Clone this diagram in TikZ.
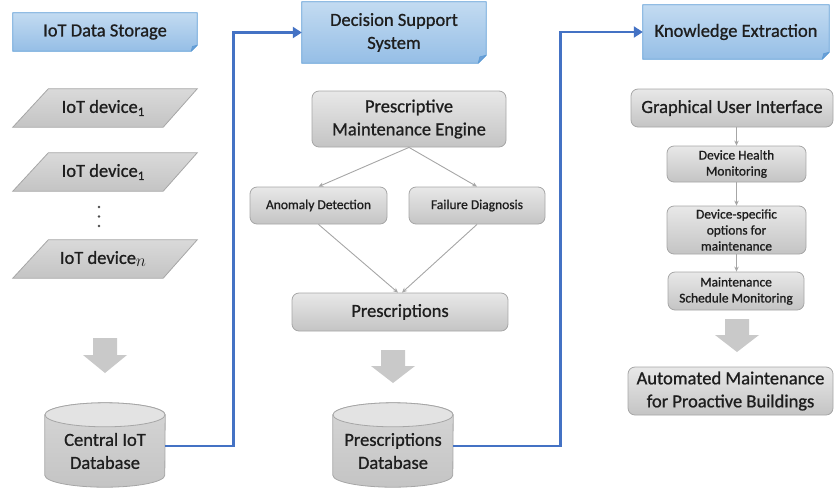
\documentclass[tikz,border=0pt]{standalone}
\usepackage{fontspec}
\setmainfont{Carlito}[FakeBold=0.9]
\usetikzlibrary{calc,arrows.meta}
\pgfdeclarelayer{background}
\pgfsetlayers{background,main}
\definecolor{bluefillA}{HTML}{C3DBF1}
\definecolor{bluefillB}{HTML}{95BEE6}
\definecolor{blueedge}{HTML}{5B9BD5}
\definecolor{bluefold}{HTML}{6E9FD6}
\definecolor{conn}{HTML}{4472C4}
\definecolor{gtop}{HTML}{E8E8E8}
\definecolor{gbot}{HTML}{C4C4C4}
\definecolor{gedge}{HTML}{A6A6A6}
\definecolor{txt}{HTML}{1E1E1E}
\definecolor{garrow}{HTML}{C9C9C9}
\tikzset{
  big/.style={font=\fontsize{18.5}{23}\selectfont, text=txt, align=center, inner sep=0pt},
  small/.style={font=\fontsize{13.4}{16}\selectfont, text=txt, align=center, inner sep=0pt},
  tiny/.style={font=\fontsize{13.5}{15}\selectfont, text=txt, align=center, inner sep=0pt},
  rbox/.style={draw=gedge, line width=0.8pt, rounded corners=7pt, top color=gtop, bottom color=gbot},
  grayline/.style={draw=gedge, line width=0.9pt, -{Stealth[length=5pt,width=4.5pt]}},
  blueline/.style={draw=conn, line width=2.8pt, -{Triangle[length=9pt,width=11pt]}},
  bluebox/.style={draw=blueedge, line width=0.8pt, top color=bluefillA, bottom color=bluefillB},
  foldtri/.style={fill=bluefold, draw=blueedge, line width=0.6pt, line join=round},
  paral/.style={draw=gedge, line width=0.8pt, top color=gtop!60!gbot, bottom color=gbot},
  cylbody/.style={draw=gedge, line width=0.8pt, top color=gtop!50!gbot, bottom color=gbot},
  cyltop/.style={draw=gedge, line width=0.8pt, fill=gtop!85!gbot},
  blockarrow/.style={fill=garrow, draw=none},
}
\begin{document}
\begin{tikzpicture}[x=1pt, y=-1pt]
\useasboundingbox (0,0) rectangle (834,491);

% ---------- headers ----------
\node[big, minimum width=184pt, minimum height=38pt] (ids) at (105,32) {IoT Data Storage};
\node[big, minimum width=184pt, minimum height=61pt] (dss) at (394,32.5) {Decision Support\\System};
\node[big, minimum width=186pt, minimum height=54pt] (ke) at (736,32) {Knowledge Extraction};

% ---------- left column ----------
\node[big, minimum width=148.5pt, minimum height=38pt] (d1) at (103,108) {IoT device\raisebox{-0.35ex}{\fontsize{13}{13}\selectfont 1}};
\node[big, minimum width=148.5pt, minimum height=38pt] (d2) at (103,172) {IoT device\raisebox{-0.35ex}{\fontsize{13}{13}\selectfont 1}};
\node[big, minimum width=148.5pt, minimum height=38pt] (dn) at (103,259) {IoT device\raisebox{-0.35ex}{$n$}};
\node[big, minimum width=120pt, minimum height=72pt] (cdb) at (105,451) {Central IoT\\Database};

% ---------- middle column ----------
\node[big, rbox, minimum width=194pt, minimum height=56pt] (pme) at (409,119) {Prescriptive\\Maintenance Engine};
\node[tiny, rbox, minimum width=137pt, minimum height=37pt] (ad) at (318.5,205.5) {Anomaly Detection};
\node[tiny, rbox, minimum width=136pt, minimum height=37pt] (fd) at (477,205.5) {Failure Diagnosis};
\node[big, rbox, minimum width=216pt, minimum height=38pt] (pr) at (400,312) {Prescriptions};
\node[big, minimum width=120pt, minimum height=72pt] (pdb) at (393,451) {Prescriptions\\Database};

% ---------- right column ----------
\node[big, rbox, minimum width=202pt, minimum height=38pt] (gui) at (732,108) {Graphical User Interface};
\node[small, rbox, minimum width=139pt, minimum height=36pt] (dhm) at (736.5,164) {Device Health\\Monitoring};
\node[small, rbox, minimum width=139pt, minimum height=48pt] (dso) at (736.5,230) {Device-specific\\options for\\maintenance};
\node[small, rbox, minimum width=136pt, minimum height=38pt] (msm) at (736,291) {Maintenance\\Schedule Monitoring};
\node[big, rbox, minimum width=205pt, minimum height=48pt] (amp) at (730.5,391) {Automated Maintenance\\for Proactive Buildings};

\begin{pgfonlayer}{background}
  % blue folded-corner boxes
  \foreach \b/\c in {ids/6,dss/8,ke/7}{
    \path[bluebox] (\b.north west) -- (\b.north east) -- ([yshift=\c pt]\b.south east)
      -- ([xshift=-\c pt]\b.south east) -- (\b.south west) -- cycle;
    \path[foldtri] ([yshift=\c pt]\b.south east) -- ([xshift=-\c pt]\b.south east)
      -- ([xshift=-0.8*\c pt, yshift=0.8*\c pt]\b.south east) -- cycle;
  }
  % parallelograms
  \foreach \p in {d1,d2,dn}{
    \path[paral] ([xshift=19.75pt]\p.north west) -- ([xshift=19.75pt]\p.north east)
      -- ([xshift=-14.25pt]\p.south east) -- ([xshift=-15.75pt]\p.south west) -- cycle;
  }
  % cylinders
  \foreach \c in {cdb,pdb}{
    \path[cylbody] (\c.north west) -- ([yshift=12pt]\c.south west)
      arc[start angle=180, end angle=360, x radius=60pt, y radius=12pt]
      -- (\c.north east)
      arc[start angle=0, end angle=180, x radius=60pt, y radius=12pt] -- cycle;
    \path[cyltop] (\c.north) ellipse[x radius=60pt, y radius=12pt];
  }
\end{pgfonlayer}

% dots
\foreach \yy in {207,216.5,226}{\fill[txt!80] (99,\yy) circle[radius=1.4pt];}

% block arrows
\fill[blockarrow] (93,338) -- (117,338) -- (117,355) -- (127,355) -- (105,373) -- (83,355) -- (93,355) -- cycle;
\fill[blockarrow] (381,350) -- (405,350) -- (405,366) -- (415,366) -- (393,383) -- (371,366) -- (381,366) -- cycle;
\fill[blockarrow] (725,319) -- (749,319) -- (749,335) -- (759,335) -- (737,352) -- (715,335) -- (725,335) -- cycle;

% gray connectors
\draw[grayline] (pme.south) -- (ad.north);
\draw[grayline] (pme.south) -- (fd.north);
\draw[grayline] (ad.south) -- ([xshift=-2pt]pr.north);
\draw[grayline] (fd.south) -- ([xshift=2pt]pr.north);
\draw[grayline] (dhm.north |- gui.south) -- (dhm.north);
\draw[grayline] (dhm.south) -- (dso.north);
\draw[grayline] (dso.south) -- (dso.south |- msm.north);

% blue connectors
\draw[blueline, line join=miter] ([yshift=5pt]cdb.east) -- ++(68,0) |- (dss.west);
\draw[blueline, line join=miter] ([yshift=5pt]pdb.east) -- ++(107,0) |- (ke.west);
\end{tikzpicture}
\end{document}
